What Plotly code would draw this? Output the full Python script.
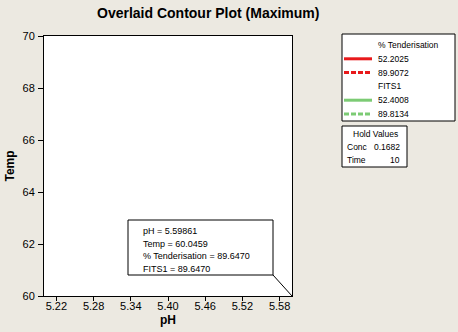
import plotly.graph_objects as go

# ---- data ----
x_ticks = [5.22, 5.28, 5.34, 5.40, 5.46, 5.52, 5.58]
y_ticks = [60, 62, 64, 66, 68, 70]
x_range = [5.2, 5.6]
y_range = [60, 70]

point_ph = 5.59861
point_temp = 60.0459
point_tender = 89.6470
point_fits = 89.6470

legend_groups = ["% Tenderisation", "FITS1"]
tender_levels = [52.2025, 89.9072]
fits_levels = [52.4008, 89.8134]
hold_names = ["Conc", "Time"]
hold_values = ["0.1682", "10"]

W, H = 458, 332
L, R, T, B = 44, 292, 36, 296
FONT = "Liberation Sans"
BG = "#ECE9E1"


def px(x):
    return (x - L) / (R - L)


def py(y):
    return (B - y) / (B - T)


fig = go.Figure()
fig.add_trace(go.Scatter(x=[point_ph], y=[point_temp], mode="markers",
                         marker=dict(size=1, color="rgba(0,0,0,0)"),
                         hoverinfo="skip", showlegend=False, cliponaxis=False))

shapes = []
annotations = []

# title
annotations.append(dict(text="<b>Overlaid Contour Plot (Maximum)</b>", x=px(208), y=py(13),
                        xref="paper", yref="paper", showarrow=False,
                        font=dict(size=14, family=FONT, color="black"),
                        xanchor="center", yanchor="middle"))

# crosshair info box
shapes.append(dict(type="rect", xref="paper", yref="paper", x0=px(128), x1=px(273),
                   y0=py(275), y1=py(220), line=dict(color="black", width=1),
                   fillcolor="white", layer="above"))
shapes.append(dict(type="line", xref="paper", yref="paper", x0=px(273), y0=py(275),
                   x1=px(R), y1=py(B), line=dict(color="black", width=1), layer="above"))
info_lines = [f"pH = {point_ph:.5f}", f"Temp = {point_temp:.4f}",
              f"% Tenderisation = {point_tender:.4f}", f"FITS1 = {point_fits:.4f}"]
for i, t in enumerate(info_lines):
    annotations.append(dict(text=t, x=px(141), y=py(231 + i * 12.6), xref="paper", yref="paper",
                            showarrow=False, xanchor="left", yanchor="middle",
                            font=dict(size=9, family=FONT, color="black")))

# legend box
shapes.append(dict(type="rect", xref="paper", yref="paper", x0=px(342), x1=px(455),
                   y0=py(121), y1=py(34), line=dict(color="black", width=1),
                   fillcolor="white", layer="above"))
red = "#E8191B"
green = "#7CCB74"
rows = [(legend_groups[0], None, None),
        (f"{tender_levels[0]:.4f}", red, "solid"),
        (f"{tender_levels[1]:.4f}", red, "dash"),
        (legend_groups[1], None, None),
        (f"{fits_levels[0]:.4f}", green, "solid"),
        (f"{fits_levels[1]:.4f}", green, "dash")]
for i, (txt, col, dash) in enumerate(rows):
    yy = 45 + i * 13.8
    annotations.append(dict(text=txt, x=px(376), y=py(yy), xref="paper", yref="paper",
                            showarrow=False, xanchor="left", yanchor="middle",
                            font=dict(size=8.5, family=FONT, color="black")))
    if col:
        shapes.append(dict(type="line", xref="paper", yref="paper", x0=px(344), x1=px(372),
                           y0=py(yy), y1=py(yy), layer="above",
                           line=dict(color=col, width=3, dash="5px,2px" if dash == "dash" else "solid")))

# hold values box
shapes.append(dict(type="rect", xref="paper", yref="paper", x0=px(342), x1=px(407),
                   y0=py(167), y1=py(126), line=dict(color="black", width=1),
                   fillcolor="white", layer="above"))
annotations.append(dict(text="Hold Values", x=px(375), y=py(134), xref="paper", yref="paper",
                        showarrow=False, xanchor="center", yanchor="middle",
                        font=dict(size=8.5, family=FONT, color="black")))
for i, (n, v) in enumerate(zip(hold_names, hold_values)):
    yy = 147 + i * 13
    annotations.append(dict(text=n, x=px(345), y=py(yy), xref="paper", yref="paper",
                            showarrow=False, xanchor="left", yanchor="middle",
                            font=dict(size=8.5, family=FONT, color="black")))
    annotations.append(dict(text=v, x=px(402), y=py(yy), xref="paper", yref="paper",
                            showarrow=False, xanchor="right", yanchor="middle",
                            font=dict(size=8.5, family=FONT, color="black")))

fig.update_layout(
    width=W, height=H,
    margin=dict(l=L, r=W - R, t=T, b=H - B, pad=0),
    paper_bgcolor=BG, plot_bgcolor="white",
    showlegend=False,
    shapes=shapes, annotations=annotations,
    font=dict(family=FONT, size=11, color="black"),
)
fig.update_xaxes(range=x_range, tickvals=x_ticks, ticktext=[f"{v:.2f}" for v in x_ticks],
                 automargin=False,
                 showgrid=False, zeroline=False, showline=True, linecolor="black", linewidth=1,
                 mirror=True, ticks="outside", ticklen=4, tickcolor="black",
                 ticklabelstandoff=-4,
                 tickfont=dict(size=11, family=FONT),
                 title=dict(text="<b>pH</b>", font=dict(size=12, family=FONT), standoff=4))
fig.update_yaxes(range=y_range, tickvals=y_ticks, automargin=False,
                 showgrid=False, zeroline=False, showline=True, linecolor="black", linewidth=1,
                 mirror=True, ticks="outside", ticklen=5, tickcolor="black",
                 ticklabelstandoff=1,
                 tickfont=dict(size=11, family=FONT),
                 title=dict(text="<b>Temp</b>", font=dict(size=12, family=FONT), standoff=5))

fig.write_html("out.html")
